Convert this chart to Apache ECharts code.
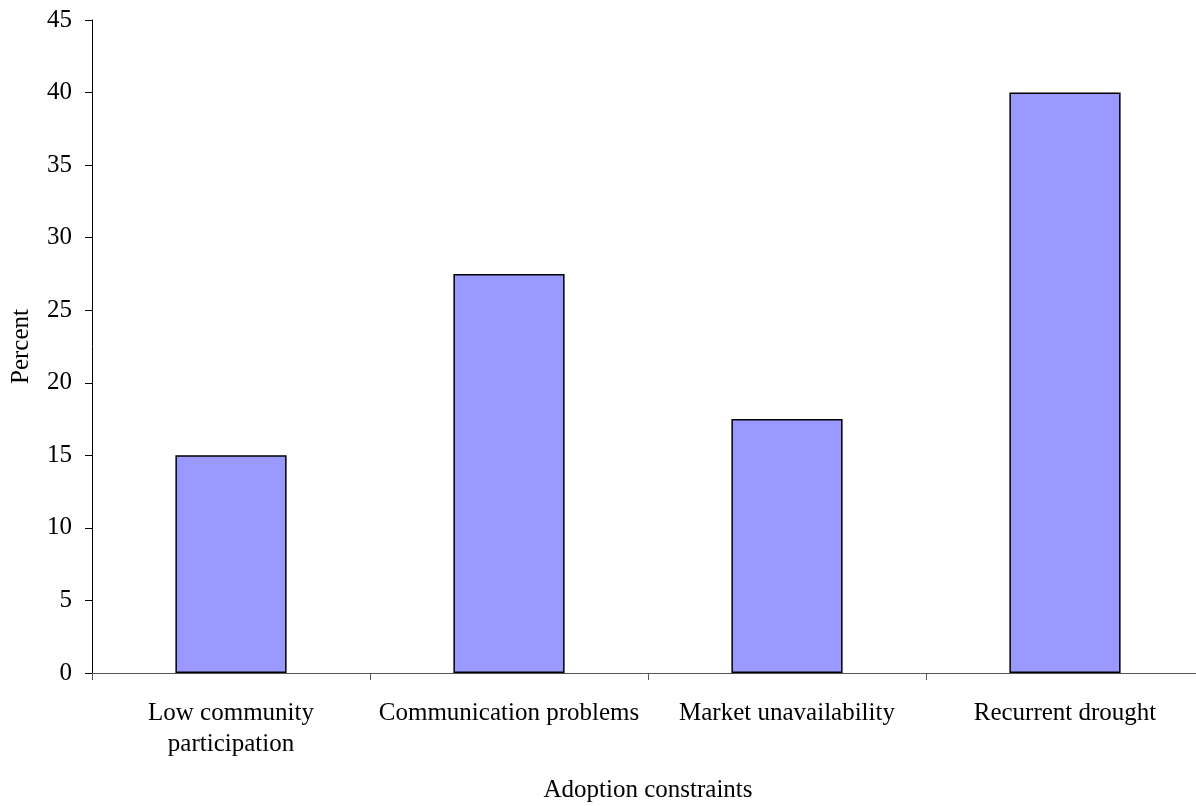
<!DOCTYPE html>
<html>
<head>
<meta charset="utf-8">
<script src="https://cdn.jsdelivr.net/npm/echarts@6/dist/echarts.min.js"></script>
<style>
  html, body { margin: 0; padding: 0; background: #fff; }
  #chart { width: 1196px; height: 806px; }
</style>
</head>
<body>
<div id="chart"></div>
<script>
// data
const categories = ['Low community\nparticipation', 'Communication problems', 'Market unavailability', 'Recurrent drought'];
const percents = [15, 27.5, 17.5, 40];

const font = '"Liberation Serif", "Times New Roman", serif';

const chart = echarts.init(document.getElementById('chart'));
chart.setOption({
  animation: false,
  textStyle: { fontFamily: font },
  // plot runs a little past the right edge, like the original
  grid: { left: 92, top: 20, right: -8, bottom: 133, outerBoundsMode: 'none', containLabel: false },
  xAxis: {
    type: 'category',
    data: categories,
    name: 'Adoption constraints',
    nameLocation: 'middle',
    nameGap: 105,
    nameTextStyle: { color: '#000', fontSize: 25, fontFamily: font },
    axisLine: { lineStyle: { color: '#555', width: 1 } },
    axisTick: { show: true, alignWithLabel: false, length: 7, lineStyle: { color: '#555' } },
    axisLabel: { color: '#000', fontSize: 25, fontFamily: font, margin: 25, lineHeight: 31, interval: 0 }
  },
  yAxis: {
    type: 'value',
    min: 0,
    max: 45,
    interval: 5,
    name: 'Percent',
    nameLocation: 'middle',
    nameGap: 58,
    nameTextStyle: { color: '#000', fontSize: 25, fontFamily: font },
    axisLine: { show: true, lineStyle: { color: '#000', width: 1 } },
    axisTick: { show: true, length: 7, lineStyle: { color: '#000' } },
    axisLabel: { color: '#000', fontSize: 25, fontFamily: font, margin: 20 },
    splitLine: { show: false }
  },
  series: [{
    type: 'bar',
    data: percents,
    barWidth: '40%',
    itemStyle: { color: '#9999FF', borderColor: '#000', borderWidth: 1.5 }
  }]
});
</script>
</body>
</html>
